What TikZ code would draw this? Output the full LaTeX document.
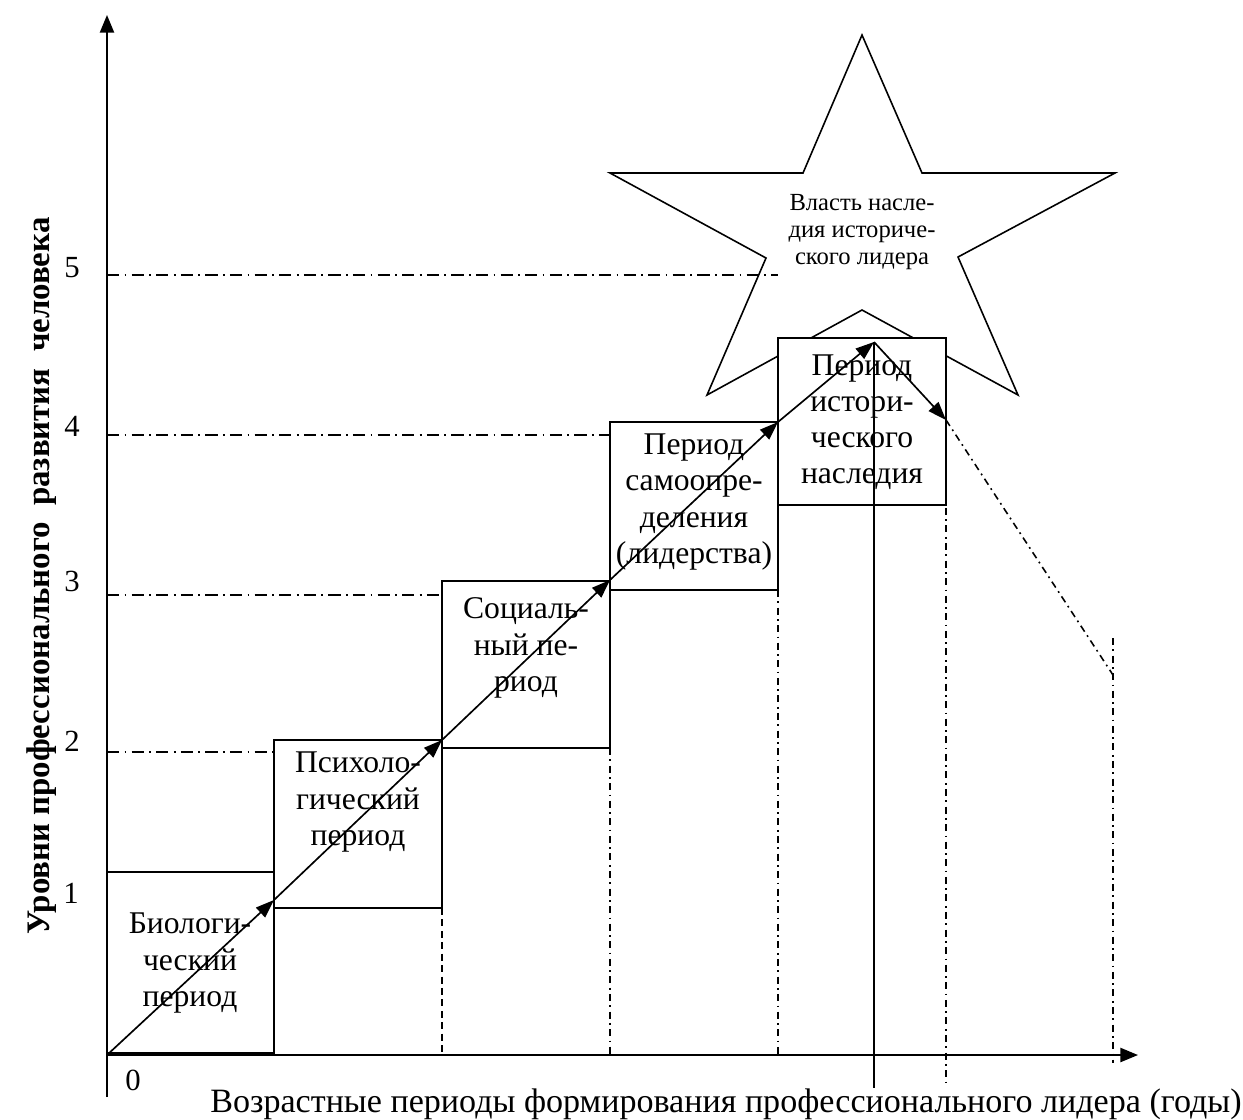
\documentclass[tikz,border=0pt]{standalone}
\usepackage{fontspec}
\setmainfont{Liberation Serif}
\usetikzlibrary{arrows.meta}
\begin{document}
\begin{tikzpicture}[x=0.02cm,y=-0.02cm,
  axis/.style={line width=1.1pt,-{Triangle[length=10pt,width=8pt]}},
  stepbox/.style={draw,fill=white,line width=1pt},
  boxtext/.style={align=center,font=\fontsize{18}{20.6}\selectfont,inner sep=0pt},
  startext/.style={align=center,font=\fontsize{14}{15.5}\selectfont,inner sep=0pt},
  ticklab/.style={font=\fontsize{17.5}{20}\selectfont,inner sep=0pt},
  stair/.style={line width=0.95pt,-{Triangle[length=10.5pt,width=7.5pt]}},
  dd/.style={line width=0.9pt,dash pattern=on 7pt off 3pt on 1pt off 3pt},
  vdd/.style={line width=0.9pt,dash pattern=on 4pt off 2.5pt on 1pt off 2.5pt},
  vd/.style={line width=0.9pt,dash pattern=on 4pt off 2.5pt},
  solid line/.style={line width=0.9pt}]
\useasboundingbox (0,0) rectangle (1243,1119);

% coordinates
\coordinate (ybot) at (107,1097);
\coordinate (ytop) at (107,15);
\coordinate (xl) at (107,1055);
\coordinate (xr) at (1138,1055);

% star
\draw[line width=0.9pt] (862,35) -- (922,173) -- (1115,173) -- (958,257) -- (1018,395)
  -- (862,310) -- (707,395) -- (766,258) -- (610,173) -- (803,173) -- cycle;
\node[startext] (st) at (862,232) {Власть насле-\\дия историче-\\ского лидера};

% horizontal level lines
\coordinate (h5a) at (107,275); \coordinate (h5b) at (778,275);
\coordinate (h4a) at (107,435); \coordinate (h4b) at (610,435);
\coordinate (h3a) at (107,595); \coordinate (h3b) at (442,595);
\coordinate (h2a) at (107,752); \coordinate (h2b) at (274,752);
\draw[dd] (h5a) -- (h5b);
\draw[dd] (h4a) -- (h4b);
\draw[dd] (h3a) -- (h3b);
\draw[dd] (h2a) -- (h2b);

% boxes
\node[stepbox,minimum width=167*0.02cm,minimum height=181*0.02cm] (b1) at (190.5,962.5) {};
\node[stepbox,minimum width=168*0.02cm,minimum height=168*0.02cm] (b2) at (358,824) {};
\node[stepbox,minimum width=168*0.02cm,minimum height=167*0.02cm] (b3) at (526,664.5) {};
\node[stepbox,minimum width=168*0.02cm,minimum height=168*0.02cm] (b4) at (694,506) {};
\node[stepbox,minimum width=168*0.02cm,minimum height=167*0.02cm] (b5) at (862,421.5) {};

\node[boxtext] (t1) at (190,963) {Биологи-\\ческий\\период};
\node[boxtext] (t2) at (358,802) {Психоло-\\гический\\период};
\node[boxtext] (t3) at (526,648) {Социаль-\\ный пе-\\риод};
\node[boxtext] (t4) at (694,502) {Период\\самоопре-\\деления\\(лидерства)};
\node[boxtext] (t5) at (862,422) {Период\\истори-\\ческого\\наследия};

% vertical guide lines
\coordinate (v1a) at (442,908); \coordinate (v1b) at (442,1055);
\coordinate (v2a) at (610,748); \coordinate (v2b) at (610,1055);
\coordinate (v3a) at (778,590); \coordinate (v3b) at (778,1055);
\coordinate (v4a) at (946,420); \coordinate (v4b) at (946,1083);
\coordinate (v5a) at (1113,638); \coordinate (v5b) at (1113,1063);
\draw[vd] (v1a) -- (v1b);
\draw[vdd] (v2a) -- (v2b);
\draw[vdd] (v3a) -- (v3b);
\draw[vdd] (v4a) -- (v4b);
\draw[vdd] (v5a) -- (v5b);

% stair arrows
\coordinate (p0) at (107,1055);
\coordinate (p1) at (274,900);
\coordinate (p2) at (442,740);
\coordinate (p3) at (610,580);
\coordinate (p4) at (778,422);
\coordinate (p5) at (874,342);
\coordinate (p6) at (946,420);
\coordinate (p7) at (1113,675);
\coordinate (pv) at (874,1088);
\draw[stair] (p0) -- (p1);
\draw[stair] (p1) -- (p2);
\draw[stair] (p2) -- (p3);
\draw[stair] (p3) -- (p4);
\draw[stair] (p4) -- (p5);
\draw[stair] (p5) -- (p6);
\draw[solid line] (p5) -- (pv);
\draw[vdd] (p6) -- (p7);

% axes
\draw[axis] (ybot) -- (ytop);
\draw[axis] (xl) -- (xr);

% tick labels
\node[ticklab] (l5) at (72,268) {5};
\node[ticklab] (l4) at (72,426) {4};
\node[ticklab] (l3) at (72,581) {3};
\node[ticklab] (l2) at (72,741) {2};
\node[ticklab] (l1) at (71,893) {1};
\node[ticklab] (l0) at (133,1080) {0};

% axis titles
\node[font=\fontsize{18.7}{22}\selectfont\bfseries,rotate=90,inner sep=0pt] (ylab) at (42,576)
  {Уровни профессионального\ \ развития\ \ человека};
\node[font=\fontsize{19.4}{22}\selectfont,inner sep=0pt,anchor=base] (xlab) at (726,1112)
  {Возрастные периоды формирования профессионального лидера (годы)};
\end{tikzpicture}
\end{document}
